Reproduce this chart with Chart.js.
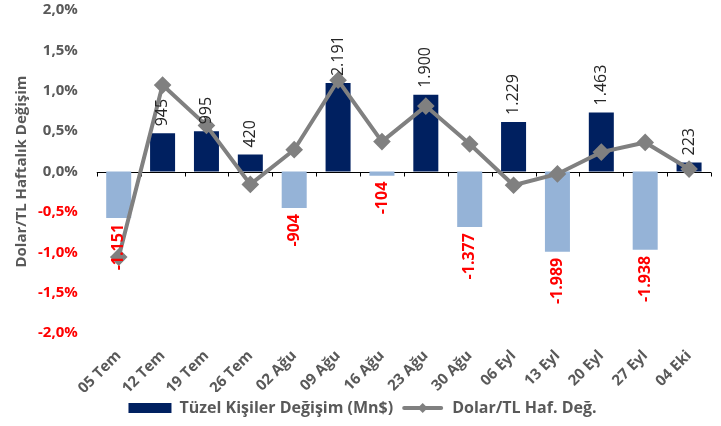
<!DOCTYPE html>
<html>
<head>
<meta charset="utf-8">
<script src="https://cdn.jsdelivr.net/npm/chart.js@4.4.0/dist/chart.umd.min.js"></script>
<style>
  html, body { margin: 0; padding: 0; background: #fff; }
  #wrap { width: 721px; height: 426px; position: relative; }
</style>
</head>
<body>
<div id="wrap"><canvas id="chart"></canvas></div>
<script>
// Weekly data
const weeks = ['05 Tem', '12 Tem', '19 Tem', '26 Tem', '02 Ağu', '09 Ağu', '16 Ağu', '23 Ağu', '30 Ağu', '06 Eyl', '13 Eyl', '20 Eyl', '27 Eyl', '04 Eki'];
const tuzelKisiler = [-1151, 945, 995, 420, -904, 2191, -104, 1900, -1377, 1229, -1989, 1463, -1938, 223];
const dolarTl = [-1.06, 1.07, 0.57, -0.16, 0.27, 1.13, 0.37, 0.81, 0.34, -0.17, -0.03, 0.24, 0.36, 0.03];

const gray = '#595959';
const red = '#FF0000';
const navy = '#002060';
const lightBlue = '#95B3D7';
const lineGray = '#808080';
const fontFamily = '"Open Sans", Lato, sans-serif';

function formatTr(v) {
    const s = Math.abs(v).toString().replace(/\B(?=(\d{3})+(?!\d))/g, '.');
    return (v < 0 ? '-' : '') + s;
}

// zero line with tick marks at category boundaries
const zeroAxisPlugin = {
    id: 'zeroAxis',
    beforeDatasetsDraw(chart) {
        const ctx = chart.ctx;
        const area = chart.chartArea;
        const y0 = Math.round(chart.scales.y.getPixelForValue(0)) + 0.5;
        ctx.save();
        ctx.strokeStyle = '#000';
        ctx.lineWidth = 1;
        ctx.beginPath();
        ctx.moveTo(area.left, y0);
        ctx.lineTo(area.right, y0);
        const step = (area.right - area.left) / weeks.length;
        for (let i = 0; i <= weeks.length; i++) {
            const x = Math.round(area.left + i * step) + 0.5;
            ctx.moveTo(x, y0);
            ctx.lineTo(x, y0 + 4);
        }
        ctx.stroke();
        ctx.restore();
    }
};

// rotated value labels on the bars
const barLabelPlugin = {
    id: 'barLabels',
    afterDatasetsDraw(chart) {
        const ctx = chart.ctx;
        const meta = chart.getDatasetMeta(0);
        ctx.save();
        ctx.textBaseline = 'middle';
        meta.data.forEach((bar, i) => {
            const v = tuzelKisiler[i];
            ctx.save();
            if (v >= 0) {
                ctx.translate(bar.x, bar.y - 7);
                ctx.rotate(-Math.PI / 2);
                ctx.textAlign = 'left';
                ctx.fillStyle = '#262626';
                ctx.font = '16px ' + fontFamily;
            } else {
                ctx.translate(bar.x, bar.y + 6);
                ctx.rotate(-Math.PI / 2);
                ctx.textAlign = 'right';
                ctx.fillStyle = red;
                ctx.font = 'bold 16px ' + fontFamily;
            }
            ctx.fillText(formatTr(v), 0, 0);
            ctx.restore();
        });
        ctx.restore();
    }
};

// line + diamond swatch for the line legend item
const legendLinePlugin = {
    id: 'legendLine',
    afterDraw(chart) {
        const legend = chart.legend;
        if (!legend || !legend.legendHitBoxes || legend.legendHitBoxes.length < 2) return;
        const box = legend.legendHitBoxes[1];
        const boxW = legend.options.labels.boxWidth;
        const cx = box.left + boxW / 2;
        const cy = box.top + box.height / 2;
        const ctx = chart.ctx;
        ctx.save();
        ctx.strokeStyle = lineGray;
        ctx.lineWidth = 4;
        ctx.lineCap = 'round';
        ctx.beginPath();
        ctx.moveTo(box.left + 3, cy);
        ctx.lineTo(box.left + boxW - 3, cy);
        ctx.stroke();
        ctx.fillStyle = lineGray;
        ctx.beginPath();
        ctx.moveTo(cx, cy - 5);
        ctx.lineTo(cx + 5, cy);
        ctx.lineTo(cx, cy + 5);
        ctx.lineTo(cx - 5, cy);
        ctx.closePath();
        ctx.fill();
        ctx.restore();
    }
};

const ctx = document.getElementById('chart').getContext('2d');
new Chart(ctx, {
    type: 'bar',
    data: {
        labels: weeks,
        datasets: [
            {
                type: 'bar',
                label: 'Tüzel Kişiler Değişim (Mn$)',
                data: tuzelKisiler,
                yAxisID: 'y2',
                order: 1,
                backgroundColor: function(c) {
                    return (c.dataIndex !== undefined && tuzelKisiler[c.dataIndex] < 0) ? lightBlue : navy;
                },
                borderWidth: 0,
                barPercentage: 0.57,
                categoryPercentage: 1.0
            },
            {
                type: 'line',
                label: 'Dolar/TL Haf. Değ.',
                data: dolarTl,
                yAxisID: 'y',
                order: 0,
                borderColor: lineGray,
                backgroundColor: lineGray,
                borderWidth: 4,
                pointStyle: 'rectRot',
                pointRadius: 6,
                pointBackgroundColor: lineGray,
                pointBorderColor: lineGray,
                tension: 0
            }
        ]
    },
    options: {
        responsive: true,
        maintainAspectRatio: false,
        animation: false,
        layout: {
            padding: { top: 0, right: 9, left: 13, bottom: 0 }
        },
        scales: {
            x: {
                grid: { display: false, drawTicks: false },
                border: { display: false },
                ticks: {
                    color: gray,
                    font: { family: fontFamily, size: 15, weight: 'bold' },
                    minRotation: 45,
                    maxRotation: 45,
                    padding: 14
                },
                afterFit: function(scale) {
                    scale.height = 59;
                }
            },
            y: {
                position: 'left',
                min: -2,
                max: 2,
                grid: { display: true, color: 'rgba(0,0,0,0)', drawOnChartArea: false, drawTicks: true, tickLength: 18 },
                border: { display: false },
                ticks: {
                    stepSize: 0.5,
                    padding: 1,
                    font: { family: fontFamily, size: 15, weight: 'bold' },
                    color: function(c) {
                        return c.tick && c.tick.value < 0 ? red : gray;
                    },
                    callback: function(value) {
                        return value.toFixed(1).replace('.', ',') + '%';
                    }
                },
                title: {
                    display: true,
                    text: 'Dolar/TL Haftalık Değişim',
                    color: gray,
                    font: { family: fontFamily, size: 15, weight: 'bold' },
                    padding: { top: 0, bottom: 6 }
                }
            },
            y2: {
                display: false,
                min: -4000,
                max: 4000
            }
        },
        plugins: {
            legend: {
                position: 'bottom',
                labels: {
                    color: gray,
                    font: { family: fontFamily, size: 16, weight: 'bold' },
                    boxWidth: 43,
                    boxHeight: 10,
                    padding: 8,
                    sort: function(a, b) { return a.datasetIndex - b.datasetIndex; },
                    generateLabels: function(chart) {
                        const items = Chart.defaults.plugins.legend.labels.generateLabels(chart);
                        items.forEach(function(item) {
                            if (item.datasetIndex === 0) {
                                item.fillStyle = navy;
                                item.strokeStyle = navy;
                                item.lineWidth = 0;
                            } else {
                                item.fillStyle = 'rgba(0,0,0,0)';
                                item.strokeStyle = 'rgba(0,0,0,0)';
                                item.lineWidth = 0;
                            }
                        });
                        return items;
                    }
                }
            },
            tooltip: { enabled: false }
        }
    },
    plugins: [zeroAxisPlugin, barLabelPlugin, legendLinePlugin]
});
</script>
</body>
</html>
